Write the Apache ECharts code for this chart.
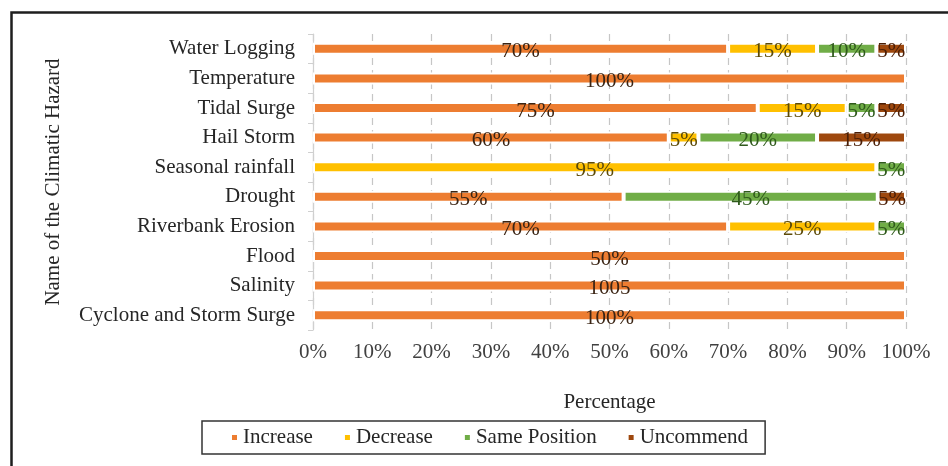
<!DOCTYPE html>
<html>
<head>
<meta charset="utf-8">
<script src="https://cdn.jsdelivr.net/npm/echarts@6/dist/echarts.min.js"></script>
<style>
html,body{margin:0;padding:0;background:#fff;}
#chart{width:948px;height:466px;}
</style>
</head>
<body>
<div id="chart"></div>
<script>
// Categories, top to bottom
var categories = ['Water Logging','Temperature','Tidal Surge','Hail Storm','Seasonal rainfall','Drought','Riverbank Erosion','Flood','Salinity','Cyclone and Storm Surge'];
var increase     = [70, 100, 75, 60, 0, 55, 70, 50, 100, 100];
var decrease     = [15, 0, 15, 5, 95, 0, 25, 0, 0, 0];
var samePosition = [10, 0, 5, 20, 5, 45, 5, 0, 0, 0];
var uncommend    = [5, 0, 5, 15, 0, 5, 0, 0, 0, 0];
// data label text as printed in the source (one label was typed as "1005")
var labelOverrides = {'Salinity|Increase': '1005'};
var xTicks = [0,10,20,30,40,50,60,70,80,90,100];

var seriesDefs = [
  {name:'Increase', raw:increase, color:'#ED7D31', lab:'#3a2414'},
  {name:'Decrease', raw:decrease, color:'#FFC000', lab:'#5c4a08'},
  {name:'Same Position', raw:samePosition, color:'#70AD47', lab:'#2f5a1c'},
  {name:'Uncommend', raw:uncommend, color:'#9E480E', lab:'#4a1e06'}
];
var totals = categories.map(function(c,i){
  return seriesDefs.reduce(function(s,d){return s + d.raw[i];},0);
});
var FONT = 'Liberation Serif';

var series = seriesDefs.map(function(d){
  return {
    name: d.name,
    type: 'bar',
    stack: 'total',
    barWidth: 12,
    itemStyle: {color: d.color, borderColor:'#fff', borderWidth:2},
    label: {
      show: true,
      position: 'inside',
      offset: [0, 3],
      fontFamily: FONT,
      fontSize: 21,
      color: d.lab,
      formatter: function(p){
        var key = categories[p.dataIndex] + '|' + d.name;
        if (labelOverrides[key]) return labelOverrides[key];
        return d.raw[p.dataIndex] + '%';
      }
    },
    data: categories.map(function(c,i){
      return d.raw[i] ? d.raw[i] / totals[i] * 100 : null;
    })
  };
});

var chart = echarts.init(document.getElementById('chart'), null, {renderer:'canvas'});
chart.setOption({
  animation: false,
  backgroundColor: '#fff',
  textStyle: {fontFamily: FONT},
  graphic: [{
    type: 'rect', left: 9, top: 10, z: 100, silent: true,
    shape: {x: 0, y: 0, width: 1200, height: 1200},
    style: {fill: 'none', stroke: '#1e1e1e', lineWidth: 2.5}
  }],
  grid: {left: 313, right: 42, top: 34, bottom: 136},
  legend: {
    left: 202, top: 421,
    itemWidth: 7, itemHeight: 7, itemGap: 30,
    icon: 'rect',
    borderColor: '#333', borderWidth: 1.5,
    padding: [6, 17, 6, 28],
    textStyle: {fontFamily: FONT, fontSize: 21, color: '#262626'},
    data: seriesDefs.map(function(d){return d.name;})
  },
  xAxis: {
    type: 'value', min: 0, max: 100, interval: 10,
    name: 'Percentage', nameLocation: 'middle', nameGap: 62,
    nameTextStyle: {fontFamily: FONT, fontSize: 21, color: '#262626'},
    axisLine: {show: false}, axisTick: {show: false},
    axisLabel: {
      margin: 12, fontFamily: FONT, fontSize: 21, color: '#404040',
      formatter: function(v){ return xTicks.indexOf(v) >= 0 ? v + '%' : ''; }
    },
    splitLine: {show: true, lineStyle: {color: '#c6c6c6', type: [7, 5], width: 1.2}}
  },
  yAxis: {
    type: 'category', inverse: true, data: categories,
    name: 'Name of the Climatic Hazard', nameLocation: 'middle', nameGap: 249, nameRotate: 90,
    nameTextStyle: {fontFamily: FONT, fontSize: 21, color: '#262626'},
    axisLine: {show: true, lineStyle: {color: '#d0d0d0', width: 1.2}},
    axisTick: {show: true, length: 5, lineStyle: {color: '#d0d0d0'}},
    axisLabel: {margin: 18, fontFamily: FONT, fontSize: 21, color: '#262626'}
  },
  series: series
});
</script>
</body>
</html>
